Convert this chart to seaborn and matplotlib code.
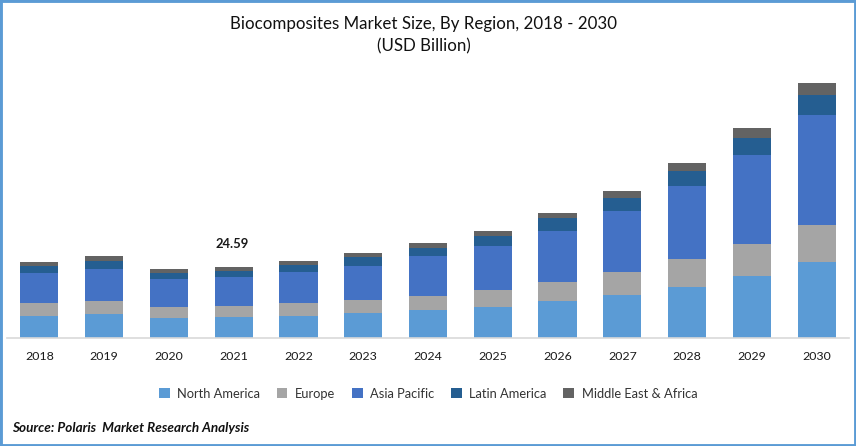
import numpy as np
import pandas as pd
import matplotlib.pyplot as plt
import seaborn as sns
from matplotlib.patches import Rectangle

years = ['2018', '2019', '2020', '2021', '2022', '2023', '2024', '2025', '2026', '2027', '2028', '2029', '2030']
north_america = [7.6, 8.3, 6.9, 7.3, 7.6, 8.7, 9.7, 10.7, 12.8, 14.9, 17.7, 21.5, 26.3]
europe = [4.5, 4.5, 3.8, 3.8, 4.5, 4.5, 4.8, 5.9, 6.6, 8.0, 9.4, 11.1, 12.8]
asia_pacific = [10.4, 11.1, 9.7, 10.0, 10.8, 11.8, 13.7, 15.2, 17.7, 21.1, 25.3, 30.5, 37.8]
latin_america = [2.4, 2.8, 2.1, 2.1, 2.4, 2.8, 2.8, 3.5, 4.2, 4.2, 5.2, 5.9, 6.9]
mea = [1.4, 1.7, 1.4, 1.39, 1.4, 1.4, 1.7, 1.7, 1.7, 2.4, 2.8, 3.5, 4.2]

series = {
    'North America': north_america,
    'Europe': europe,
    'Asia Pacific': asia_pacific,
    'Latin America': latin_america,
    'Middle East & Africa': mea,
}
colors = ['#5B9BD5', '#A5A5A5', '#4472C4', '#255E91', '#636363']
label_2021 = '24.59'

sns.set_style('white')
plt.rcParams['font.family'] = ['Lato', 'DejaVu Sans']

fig = plt.figure(figsize=(8.56, 4.46), dpi=100)
ax = fig.add_axes([7 / 856, 1 - 338 / 446, 842 / 856, 268 / 446])

# stack the bars one region at a time
bottom = np.zeros(len(years))
for (name, values), color in zip(series.items(), colors):
    data = pd.DataFrame({'year': years, 'value': values})
    sns.barplot(x='year', y='value', data=data, color=color, bottom=bottom,
                width=0.588, saturation=1, errorbar=None, label=name, ax=ax,
                legend=False, linewidth=0)
    bottom += np.array(values)

ax.set_ylim(0, 92.5)
ax.set_xlim(-0.5, len(years) - 0.5)
ax.set_xlabel('')
ax.set_ylabel('')
ax.set_yticks([])
ax.tick_params(axis='x', length=0, pad=9.5, labelsize=8.9, labelcolor='#1a1a1a')
sns.despine(ax=ax, left=True)
ax.spines['bottom'].set_color('#D9D9D9')
ax.spines['bottom'].set_linewidth(1.2)

ax.text(2.97, bottom[3] + 7.8, label_2021, ha='center', va='center', fontsize=9.4,
        fontweight='bold', color='#1a1a1a')

fig.text(424 / 856, 1 - 24 / 446, 'Biocomposites Market Size, By Region, 2018 - 2030',
         ha='center', va='center', fontsize=12.2, color='#111111')
fig.text(424 / 856, 1 - 46 / 446, '(USD Billion)', ha='center', va='center',
         fontsize=12.2, color='#111111')

handles, labels = ax.get_legend_handles_labels()
fig.legend(handles, labels, loc='center', bbox_to_anchor=(428 / 856, 1 - 393.5 / 446), ncol=5,
           frameon=False, fontsize=9.3, handlelength=0.85, handleheight=0.85,
           columnspacing=1.25, handletextpad=0.6, labelcolor='#333333')

fig.text(12 / 856, 1 - 428.5 / 446, 'Source: Polaris  Market Research Analysis', ha='left', va='center',
         fontsize=9.7, fontweight='bold', fontstyle='italic', color='#111111')

# blue frame around the picture
fig.add_artist(Rectangle((0, 0), 1, 1, transform=fig.transFigure, fill=False,
                         edgecolor='#5B9BD5', linewidth=3.5))

fig.savefig('out.png', dpi=100)
